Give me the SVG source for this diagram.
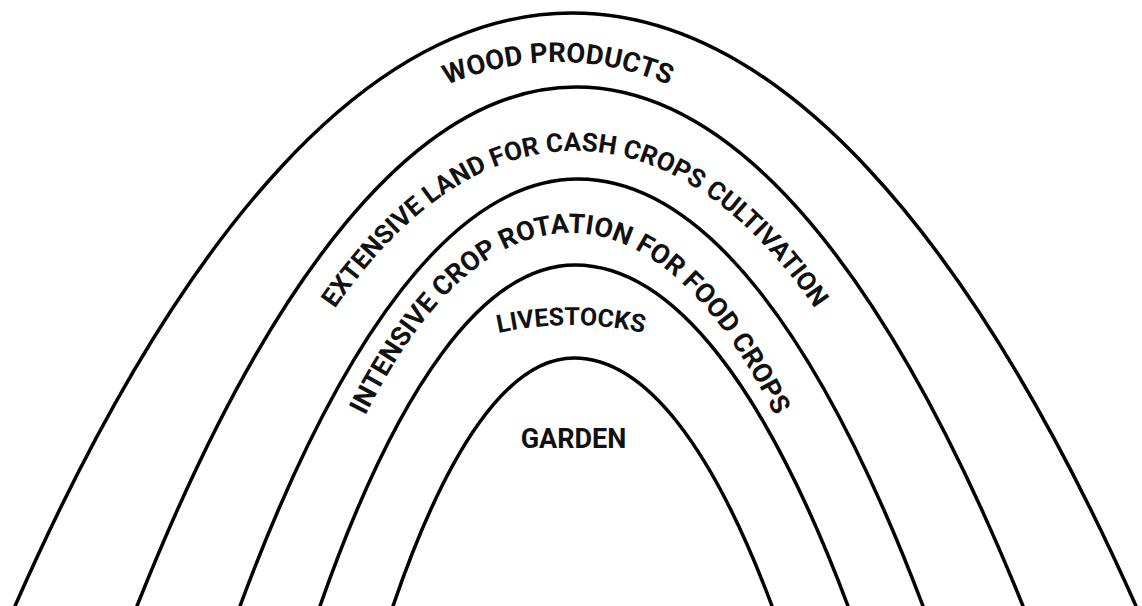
<svg xmlns="http://www.w3.org/2000/svg" xmlns:xlink="http://www.w3.org/1999/xlink" width="1142" height="606" viewBox="0 0 1142 606">
  <style>
    .arch { fill: none; stroke: #000; stroke-width: 3.5; stroke-linecap: round; }
    .lbl { font-family: Roboto, "Liberation Sans", "DejaVu Sans", sans-serif; font-weight: 700; fill: #111; }
  </style>
  <defs>
    <path id="tp1" d="M 385 118 Q 558 6 731 118"/>
    <path id="tp2" d="M 275 414 C 350 256.2 455 151 575 151 C 695 151 800 256.2 875 414"/>
    <path id="tp3" d="M 330 497 C 390 338.6 474 233 570 233 C 666 233 750 338.6 810 497"/>
    <path id="tp4" d="M 471 340 Q 571 310 671 340"/>
  </defs>
  <rect width="1142" height="606" fill="#fff"/>
  <g id="wood-products">
    <path class="arch" d="M 15 606 C 182.1 226.5 371.5 13 572 13 C 775 13 966.8 226.5 1136 606"/>
    <text class="lbl" font-size="27.5"><textPath href="#tp1" xlink:href="#tp1" startOffset="50%" text-anchor="middle">WOOD PRODUCTS</textPath></text>
  </g>
  <g id="extensive-land">
    <path class="arch" d="M 137 606 C 268.7 273.8 418 87 576 87 C 736.9 87 888.9 273.8 1023 606"/>
    <text class="lbl" font-size="26"><textPath href="#tp2" xlink:href="#tp2" startOffset="50%" text-anchor="middle">EXTENSIVE LAND FOR CASH CROPS CULTIVATION</textPath></text>
  </g>
  <g id="intensive-crop-rotation">
    <path class="arch" d="M 240 606 C 341.4 332.7 456.3 179 578 179 C 702.2 179 819.5 332.7 923 606"/>
    <text class="lbl" font-size="27"><textPath href="#tp3" xlink:href="#tp3" startOffset="50%" text-anchor="middle">INTENSIVE CROP ROTATION FOR FOOD CROPS</textPath></text>
  </g>
  <g id="livestocks">
    <path class="arch" d="M 320 606 C 396.5 387.8 483.2 265 575 265 C 673.3 265 766.1 387.8 848 606"/>
    <text class="lbl" font-size="25"><textPath href="#tp4" xlink:href="#tp4" startOffset="50%" text-anchor="middle">LIVESTOCKS</textPath></text>
  </g>
  <g id="garden">
    <path class="arch" d="M 393 606 C 447.3 447.3 508.8 358 574 358 C 645.3 358 712.6 447.3 772 606"/>
    <text class="lbl" font-size="27" x="573.5" y="448" text-anchor="middle">GARDEN</text>
  </g>
</svg>
